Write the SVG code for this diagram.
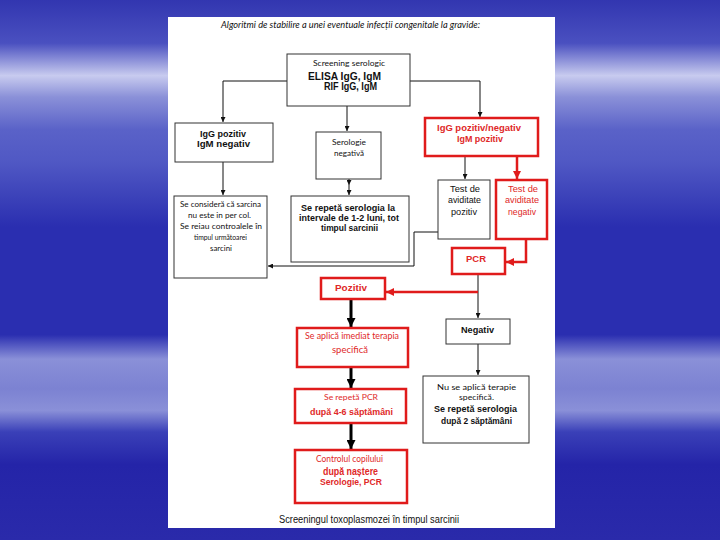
<svg xmlns="http://www.w3.org/2000/svg" width="720" height="540" viewBox="0 0 720 540">
<defs>
<linearGradient id="bg" x1="0" y1="0" x2="0" y2="1">
<stop offset="0" stop-color="#3236b0"/>
<stop offset="0.08" stop-color="#4a50c0"/>
<stop offset="0.14" stop-color="#c8cbef"/>
<stop offset="0.18" stop-color="#8a90d8"/>
<stop offset="0.24" stop-color="#5a62c8"/>
<stop offset="0.3" stop-color="#5058c4"/>
<stop offset="0.37" stop-color="#3a40b8"/>
<stop offset="0.42" stop-color="#2a2eb0"/>
<stop offset="0.62" stop-color="#2a2eb0"/>
<stop offset="0.665" stop-color="#8a90d8"/>
<stop offset="0.72" stop-color="#7c82d2"/>
<stop offset="0.76" stop-color="#8a90d8"/>
<stop offset="0.8" stop-color="#3a40b8"/>
<stop offset="0.86" stop-color="#2424a8"/>
<stop offset="1" stop-color="#2a2aaa"/>
</linearGradient>
<marker id="ab" viewBox="0 0 10 10" refX="10" refY="5" markerWidth="5" markerHeight="5" orient="auto" markerUnits="userSpaceOnUse"><path d="M0,0 L10,5 L0,10 Z" fill="#111"/></marker>
<marker id="ar" viewBox="0 0 10 10" refX="10" refY="5" markerWidth="8" markerHeight="8" orient="auto" markerUnits="userSpaceOnUse"><path d="M0,0 L10,5 L0,10 Z" fill="#e01b1b"/></marker>
<marker id="at" viewBox="0 0 10 10" refX="10" refY="5" markerWidth="9" markerHeight="9" orient="auto" markerUnits="userSpaceOnUse"><path d="M0,0 L10,5 L0,10 Z" fill="#000"/></marker>
<style>
.bk{fill:#fff;stroke:#333;stroke-width:1}
.rd{fill:#fff;stroke:#e01b1b;stroke-width:2.5}
.c{stroke:#111;stroke-width:1;fill:none}
.cr{stroke:#e01b1b;stroke-width:2.5;fill:none}
.ct{stroke:#000;stroke-width:3;fill:none}
text{text-anchor:middle;font-family:"Liberation Sans",Arial,sans-serif;fill:#111}
.cal{font-family:Lato,"Open Sans",sans-serif}
.b{font-weight:bold}
.r{fill:#e02828}
</style>
</defs>
<rect x="0" y="0" width="720" height="540" fill="url(#bg)"/>
<rect x="168" y="17" width="387" height="511" fill="#fff"/>
<text x="350.5" y="28" class="cal" font-style="italic" font-size="9.5" textLength="259" lengthAdjust="spacingAndGlyphs">Algoritmi de stabilire a unei eventuale infecții congenitale la gravide:</text>

<g id="connectors">
<path class="c" d="M287,81 H223 V122" marker-end="url(#ab)"/>
<path class="c" d="M410,81 H480 V117" marker-end="url(#ab)"/>
<path class="c" d="M347,106 V131" marker-end="url(#ab)"/>
<path class="c" d="M223,162 V195" marker-end="url(#ab)"/>
<path class="c" d="M349,179 V185" marker-end="url(#ab)"/>
<path class="c" d="M349,185 V195" marker-end="url(#ab)"/>
<path class="c" d="M465,156 V179" marker-end="url(#ab)"/>
<path class="cr" d="M517,156 V179" marker-end="url(#ar)"/>
<path class="c" d="M438,232 H414 V266 H268" marker-end="url(#ab)"/>
<path class="cr" d="M526,239 V262 H506" marker-end="url(#ar)"/>
<path class="c" d="M478,274 V318" marker-end="url(#ab)"/>
<path class="cr" d="M478,292 H386" marker-end="url(#ar)"/>
<path class="ct" d="M351,299 V327" marker-end="url(#at)"/>
<path class="ct" d="M351,367 V388" marker-end="url(#at)"/>
<path class="ct" d="M351,423 V449" marker-end="url(#at)"/>
<path class="c" d="M478,344 V375" marker-end="url(#ab)"/>
</g>

<g id="screening">
<rect class="bk" x="287" y="54" width="123" height="52"/>
<text x="349" y="66" class="cal" font-size="8" textLength="72" lengthAdjust="spacingAndGlyphs">Screening serologic</text>
<text x="344.5" y="79.5" class="b" font-size="10" textLength="73" lengthAdjust="spacingAndGlyphs">ELISA IgG, IgM</text>
<text x="350.5" y="90" class="b" font-size="10" textLength="53" lengthAdjust="spacingAndGlyphs">RIF IgG, IgM</text>
</g>

<g id="igg-pozitiv">
<rect class="bk" x="175" y="123" width="98" height="39"/>
<text x="223" y="136.5" class="b" font-size="9.5" textLength="46" lengthAdjust="spacingAndGlyphs">IgG pozitiv</text>
<text x="223.5" y="146.5" class="b" font-size="9.5" textLength="53" lengthAdjust="spacingAndGlyphs">IgM negativ</text>
</g>

<g id="serologie-negativa">
<rect class="bk" x="316" y="132" width="65" height="47"/>
<text x="349" y="145" class="cal" font-size="8" textLength="34" lengthAdjust="spacingAndGlyphs">Serologie</text>
<text x="349" y="156" class="cal" font-size="8" textLength="30" lengthAdjust="spacingAndGlyphs">negativă</text>
</g>

<g id="igg-igm-pozitiv">
<rect class="rd" x="425" y="118" width="113" height="38"/>
<text x="479" y="130.5" class="b r" font-size="9.5" textLength="84" lengthAdjust="spacingAndGlyphs">IgG pozitiv/negativ</text>
<text x="480" y="141.5" class="b r" font-size="9.5" textLength="46" lengthAdjust="spacingAndGlyphs">IgM pozitiv</text>
</g>

<g id="aviditate-pozitiv">
<rect class="bk" x="438" y="180" width="52" height="59"/>
<text x="465" y="192" font-size="9" textLength="30" lengthAdjust="spacingAndGlyphs">Test de</text>
<text x="464.5" y="203" font-size="9" textLength="33" lengthAdjust="spacingAndGlyphs">aviditate</text>
<text x="464" y="215" font-size="9" textLength="26" lengthAdjust="spacingAndGlyphs">pozitiv</text>
</g>

<g id="aviditate-negativ">
<rect class="rd" x="496" y="180" width="51" height="59"/>
<text x="523" y="192" class="r" font-size="9" textLength="30" lengthAdjust="spacingAndGlyphs">Test de</text>
<text x="522" y="203" class="r" font-size="9" textLength="34" lengthAdjust="spacingAndGlyphs">aviditate</text>
<text x="522" y="215" class="r" font-size="9" textLength="28" lengthAdjust="spacingAndGlyphs">negativ</text>
</g>

<g id="sarcina-nu-este-in-pericol">
<rect class="bk" x="174" y="196" width="93" height="82"/>
<text x="220.5" y="207" class="cal" font-size="8" textLength="81" lengthAdjust="spacingAndGlyphs">Se consideră că sarcina</text>
<text x="219.5" y="218" class="cal" font-size="8" textLength="63" lengthAdjust="spacingAndGlyphs">nu este in per col.</text>
<text x="221" y="229" class="cal" font-size="8" textLength="82" lengthAdjust="spacingAndGlyphs">Se reiau controalele în</text>
<text x="220.5" y="240" class="cal" font-size="8" textLength="53" lengthAdjust="spacingAndGlyphs">timpul următoarei</text>
<text x="221" y="251" class="cal" font-size="8" textLength="22" lengthAdjust="spacingAndGlyphs">sarcini</text>
</g>

<g id="se-repeta-serologia">
<rect class="bk" x="291" y="196" width="118" height="66"/>
<text x="348" y="210.5" class="b" font-size="9.5" textLength="94" lengthAdjust="spacingAndGlyphs">Se repetă serologia la</text>
<text x="349" y="220.5" class="b" font-size="9.5" textLength="100" lengthAdjust="spacingAndGlyphs">intervale de 1-2 luni, tot</text>
<text x="349.5" y="231" class="b" font-size="9.5" textLength="57" lengthAdjust="spacingAndGlyphs">timpul sarcinii</text>
</g>

<g id="pcr">
<rect class="rd" x="452" y="248" width="53" height="26"/>
<text x="476" y="261.5" class="b r" font-size="9" textLength="20" lengthAdjust="spacingAndGlyphs">PCR</text>
</g>

<g id="pozitiv">
<rect class="rd" x="321" y="278" width="64" height="21"/>
<text x="351" y="291" class="b r" font-size="8.5" textLength="32" lengthAdjust="spacingAndGlyphs">Pozitiv</text>
</g>

<g id="terapie-imediata">
<rect class="rd" x="297" y="328" width="111" height="39"/>
<text x="352" y="339" class="cal r" font-size="8.5" textLength="94" lengthAdjust="spacingAndGlyphs">Se aplică imediat terapia</text>
<text x="350" y="353" class="cal r" font-size="8.5" textLength="36" lengthAdjust="spacingAndGlyphs">specifică</text>
</g>

<g id="negativ">
<rect class="bk" x="446" y="319" width="64" height="25"/>
<text x="477.5" y="333" class="b" font-size="9" textLength="33" lengthAdjust="spacingAndGlyphs">Negativ</text>
</g>

<g id="nu-se-aplica-terapie">
<rect class="bk" x="423" y="376" width="106" height="67"/>
<text x="476.5" y="390" class="cal" font-size="8" textLength="79" lengthAdjust="spacingAndGlyphs">Nu se aplică terapie</text>
<text x="476.5" y="400" class="cal" font-size="8" textLength="35" lengthAdjust="spacingAndGlyphs">specifică.</text>
<text x="475.5" y="411.5" class="b" font-size="9.5" textLength="83" lengthAdjust="spacingAndGlyphs">Se repetă serologia</text>
<text x="476.5" y="423.5" class="b" font-size="9" textLength="71" lengthAdjust="spacingAndGlyphs">după 2 săptămâni</text>
</g>

<g id="se-repeta-pcr">
<rect class="rd" x="295" y="389" width="111" height="34"/>
<text x="351" y="400" class="cal r" font-size="8" textLength="54" lengthAdjust="spacingAndGlyphs">Se repetă PCR</text>
<text x="351.5" y="414.5" class="b r" font-size="9.5" textLength="83" lengthAdjust="spacingAndGlyphs">după 4-6 săptămâni</text>
</g>

<g id="controlul-copilului">
<rect class="rd" x="295" y="450" width="112" height="53"/>
<text x="349.5" y="462" class="cal r" font-size="8.5" textLength="67" lengthAdjust="spacingAndGlyphs">Controlul copilului</text>
<text x="350.5" y="474.5" class="b r" font-size="10" textLength="55" lengthAdjust="spacingAndGlyphs">după naștere</text>
<text x="351" y="484.5" class="b r" font-size="8.5" textLength="62" lengthAdjust="spacingAndGlyphs">Serologie, PCR</text>
</g>

<text x="369" y="523" font-size="10" fill="#222" textLength="180" lengthAdjust="spacingAndGlyphs">Screeningul toxoplasmozei în timpul sarcinii</text>
</svg>
